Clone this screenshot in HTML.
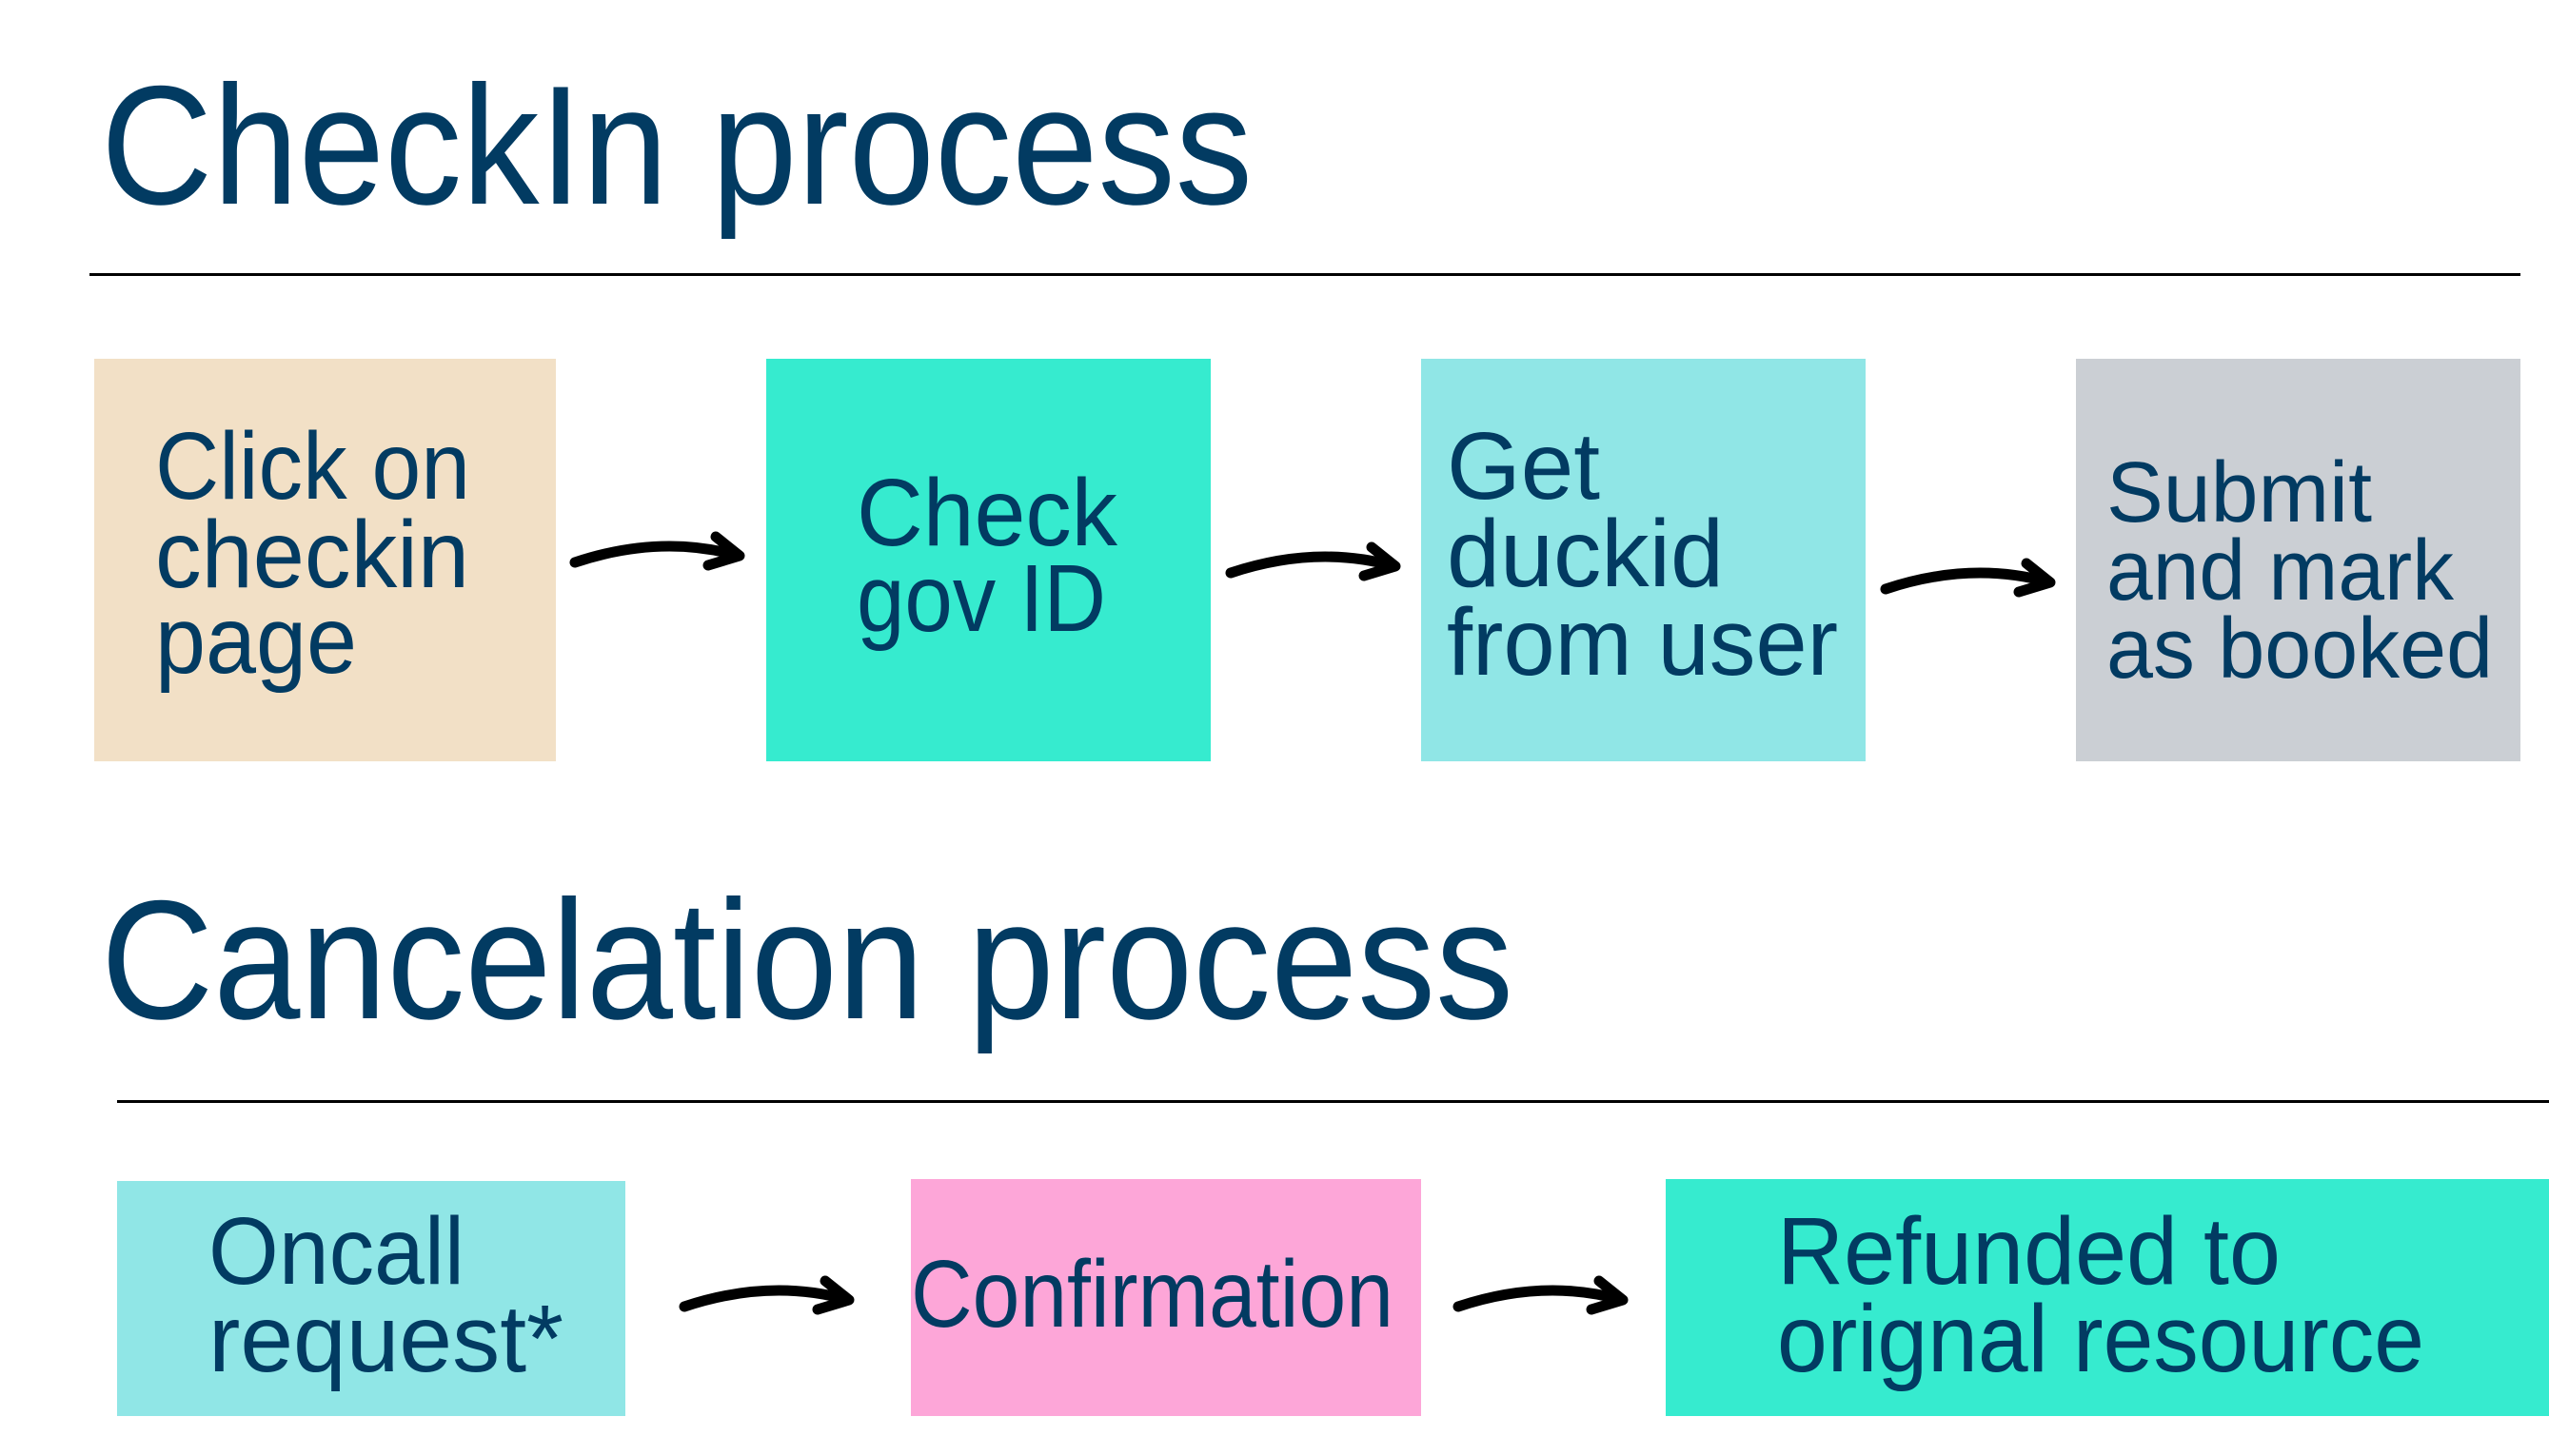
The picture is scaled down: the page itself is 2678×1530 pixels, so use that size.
<!DOCTYPE html>
<html><head><meta charset="utf-8"><style>
html,body{margin:0;padding:0;background:#fff}
svg{display:block}
text{font-family:"Liberation Sans",sans-serif;fill:#023b62}
</style></head><body>
<svg width="2678" height="1530" viewBox="0 0 2678 1530" xmlns="http://www.w3.org/2000/svg">
<defs>
<g id="arr" fill="none" stroke="#000" stroke-width="11" stroke-linecap="round" stroke-linejoin="round">
<path d="M0 0 Q90 -30 172 -7"/>
<path d="M148 -27 L173 -7 L140 3"/>
</g>
</defs>
<text x="106" y="214" font-size="178" textLength="1210" lengthAdjust="spacingAndGlyphs">CheckIn process</text>
<rect x="94" y="287" width="2554" height="3" fill="#000"/>

<rect x="99" y="377" width="485" height="423" fill="#f2e0c6"/>
<rect x="805" y="377" width="467" height="423" fill="#36ebcf"/>
<rect x="1493" y="377" width="467" height="423" fill="#90e6e6"/>
<rect x="2181" y="377" width="467" height="423" fill="#cbcfd4"/>

<g font-size="100">
<text x="163" y="524" textLength="331" lengthAdjust="spacingAndGlyphs">Click on</text>
<text x="163" y="617" textLength="330" lengthAdjust="spacingAndGlyphs">checkin</text>
<text x="163" y="707" textLength="212" lengthAdjust="spacingAndGlyphs">page</text>
<text x="900" y="573" textLength="274" lengthAdjust="spacingAndGlyphs">Check</text>
<text x="900" y="663" textLength="262" lengthAdjust="spacingAndGlyphs">gov ID</text>
<text x="1520" y="524" textLength="161" lengthAdjust="spacingAndGlyphs">Get</text>
<text x="1520" y="616" textLength="291" lengthAdjust="spacingAndGlyphs">duckid</text>
<text x="1520" y="709" textLength="411" lengthAdjust="spacingAndGlyphs">from user</text>
</g>
<g font-size="90">
<text x="2213" y="548" textLength="279" lengthAdjust="spacingAndGlyphs">Submit</text>
<text x="2213" y="630" textLength="365" lengthAdjust="spacingAndGlyphs">and mark</text>
<text x="2213" y="712" textLength="406" lengthAdjust="spacingAndGlyphs">as booked</text>
</g>

<use href="#arr" x="604" y="591"/>
<use href="#arr" x="1293" y="602"/>
<use href="#arr" x="1981" y="619"/>

<text x="106" y="1070" font-size="178" textLength="1484" lengthAdjust="spacingAndGlyphs">Cancelation process</text>
<rect x="123" y="1156" width="2555" height="3" fill="#000"/>

<rect x="123" y="1241" width="534" height="247" fill="#90e6e6"/>
<rect x="957" y="1239" width="536" height="249" fill="#fda6d8"/>
<rect x="1750" y="1239" width="928" height="249" fill="#36ebcf"/>

<g font-size="100">
<text x="219" y="1349" textLength="269" lengthAdjust="spacingAndGlyphs">Oncall</text>
<text x="219" y="1441" textLength="373" lengthAdjust="spacingAndGlyphs">request*</text>
<text x="957" y="1394" textLength="507" lengthAdjust="spacingAndGlyphs">Confirmation</text>
<text x="1867" y="1349" textLength="529" lengthAdjust="spacingAndGlyphs">Refunded to</text>
<text x="1867" y="1441" textLength="680" lengthAdjust="spacingAndGlyphs">orignal resource</text>
</g>

<use href="#arr" x="719" y="1373"/>
<use href="#arr" x="1532" y="1373"/>
</svg>
</body></html>
